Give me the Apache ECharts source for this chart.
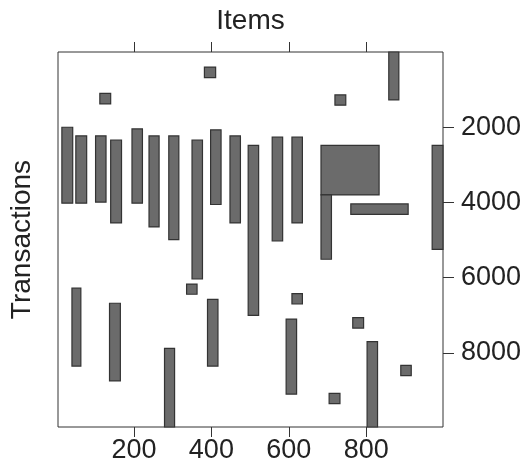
<!DOCTYPE html>
<html>
<head>
<meta charset="utf-8">
<script src="https://cdn.jsdelivr.net/npm/echarts@6/dist/echarts.min.js"></script>
<style>
html,body{margin:0;padding:0;background:#fff;}
#chart{width:531px;height:465px;}
</style>
</head>
<body>
<div id="chart"></div>
<script>
// Rectangles: item range [x0,x1], transaction range [y0,y1]
const rectX0 = [112, 382, 719, 858, 14, 50, 101, 140, 195, 239, 290, 350, 398, 448, 495, 557, 608, 683, 683, 760, 970, 336, 40, 137, 279, 390, 593, 608, 765, 889, 704, 802];
const rectX1 = [140, 411, 747, 884, 42, 78, 128, 168, 222, 265, 316, 377, 425, 475, 522, 584, 635, 833, 710, 908, 998, 363, 63, 165, 305, 417, 620, 635, 793, 916, 732, 829];
const rectY0 = [1100, 400, 1140, 0, 2000, 2230, 2230, 2340, 2045, 2230, 2230, 2340, 2070, 2230, 2480, 2265, 2265, 2485, 3800, 4040, 2480, 6170, 6280, 6680, 7880, 6575, 7100, 6425, 7060, 8330, 9075, 7700];
const rectY1 = [1380, 680, 1415, 1275, 4020, 4020, 3990, 4545, 4020, 4650, 4990, 6035, 4055, 4545, 7000, 5025, 4545, 3800, 5510, 4315, 5245, 6440, 8350, 8745, 9970, 8350, 9095, 6700, 7340, 8605, 9350, 9970];
const xTicks = [200, 400, 600, 800];
const yTicks = [2000, 4000, 6000, 8000];
const xRange = [4, 998];
const yRange = [0, 9970];

const data = rectX0.map((v, i) => [v, rectX1[i], rectY0[i], rectY1[i]]);
const FONT = '"Liberation Sans", Arial, Helvetica, sans-serif';
const axisCol = '#333';
const plain = function (v) { return String(v); };

const chart = echarts.init(document.getElementById('chart'), null, {renderer: 'canvas'});
chart.setOption({
  animation: false,
  grid: {left: 58, top: 52, right: 88, bottom: 38, containLabel: false, outerBoundsMode: 'none',
         show: true, borderColor: axisCol, borderWidth: 1, backgroundColor: 'transparent'},
  xAxis: [
    {
      type: 'value', position: 'bottom', min: xRange[0], max: xRange[1],
      axisLine: {show: false, onZero: false},
      axisTick: {show: true, customValues: xTicks, length: 10, inside: false, lineStyle: {color: axisCol}},
      axisLabel: {show: true, customValues: xTicks, formatter: plain, margin: 10, fontSize: 27, fontFamily: FONT, color: '#222'},
      splitLine: {show: false}
    },
    {
      type: 'value', position: 'top', min: xRange[0], max: xRange[1],
      name: 'Items', nameLocation: 'middle', nameGap: 17,
      nameTextStyle: {fontSize: 28, fontFamily: FONT, color: '#222'},
      axisLine: {show: false, onZero: false},
      axisTick: {show: true, customValues: xTicks, length: 10, lineStyle: {color: axisCol}},
      axisLabel: {show: false},
      splitLine: {show: false}
    }
  ],
  yAxis: [
    {
      type: 'value', position: 'right', inverse: true, min: yRange[0], max: yRange[1],
      axisLine: {show: false, onZero: false},
      axisTick: {show: true, customValues: yTicks, length: 11, lineStyle: {color: axisCol}},
      axisLabel: {show: true, customValues: yTicks, formatter: plain, margin: 18, fontSize: 27, fontFamily: FONT, color: '#222'},
      splitLine: {show: false}
    },
    {
      type: 'value', position: 'left', inverse: true, min: yRange[0], max: yRange[1],
      name: 'Transactions', nameLocation: 'middle', nameGap: 22,
      nameTextStyle: {fontSize: 28, fontFamily: FONT, color: '#222'},
      axisLine: {show: false, onZero: false},
      axisTick: {show: false},
      axisLabel: {show: false},
      splitLine: {show: false}
    }
  ],
  series: [{
    type: 'custom',
    xAxisIndex: 0, yAxisIndex: 0,
    data: data,
    renderItem: function (params, api) {
      const p0 = api.coord([api.value(0), api.value(2)]);
      const p1 = api.coord([api.value(1), api.value(3)]);
      return {
        type: 'rect',
        shape: {x: Math.min(p0[0], p1[0]), y: Math.min(p0[1], p1[1]), width: Math.abs(p1[0] - p0[0]), height: Math.abs(p1[1] - p0[1])},
        style: {fill: '#6b6b6b', stroke: '#333', lineWidth: 1.2}
      };
    }
  }]
});
</script>
</body>
</html>
